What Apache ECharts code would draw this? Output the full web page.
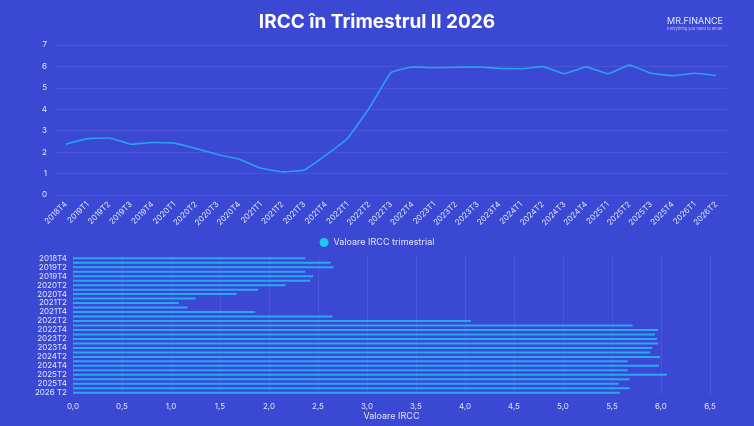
<!DOCTYPE html>
<html><head><meta charset="utf-8">
<script src="https://cdn.jsdelivr.net/npm/echarts@6/dist/echarts.min.js"></script>
<style>html,body{margin:0;padding:0;background:#3a48d4}#c{width:754px;height:426px}</style>
</head><body><div id="c"></div>
<script>
const categories=['2018T4','2019T1','2019T2','2019T3','2019T4','2020T1','2020T2','2020T3','2020T4','2021T1','2021T2','2021T3','2021T4','2022T1','2022T2','2022T3','2022T4','2023T1','2023T2','2023T3','2023T4','2024T1','2024T2','2024T3','2024T4','2025T1','2025T2','2025T3','2025T4','2026T1','2026T2'];
const barCategories=categories.slice(0,-1).concat(['2026 T2']);
const irccValues=[2.37,2.63,2.66,2.37,2.45,2.42,2.17,1.89,1.67,1.25,1.08,1.17,1.86,2.65,4.06,5.71,5.97,5.94,5.96,5.97,5.91,5.89,5.99,5.66,5.98,5.66,6.06,5.68,5.57,5.68,5.58];
const lbl='rgba(255,255,255,0.85)';
const split={lineStyle:{color:'rgba(255,255,255,0.08)'}};
const chart=echarts.init(document.getElementById('c'));
chart.setOption({
  backgroundColor:'#3a48d4',
  textStyle:{fontFamily:'Inter, Roboto, sans-serif'},
  title:[{text:'IRCC în Trimestrul II 2026',left:'center',top:8,textStyle:{color:'#fff',fontSize:19,fontWeight:'bold',fontFamily:'Inter'}},
         {text:'MR.FINANCE',subtext:'Everything you need to know',right:26,top:12,itemGap:1,textStyle:{color:'#e0e4ff',fontSize:9,fontWeight:'normal'},subtextStyle:{color:'#c0c6f0',fontSize:4}}],
  legend:{data:['Valoare IRCC trimestrial'],top:233,left:'center',icon:'circle',itemWidth:9,itemHeight:9,textStyle:{color:lbl,fontSize:9}},
  grid:[{left:55,right:27,top:45,height:150},{left:73,right:44,top:256,height:139}],
  xAxis:[{type:'category',gridIndex:0,data:categories,boundaryGap:true,axisLine:{show:false},axisTick:{show:false},
          axisLabel:{color:lbl,fontSize:8,rotate:45,interval:0}},
         {type:'value',gridIndex:1,min:0,max:6.5,interval:0.5,name:'Valoare IRCC',nameLocation:'middle',nameGap:16,nameTextStyle:{color:lbl,fontSize:9},
          axisLabel:{color:lbl,fontSize:8,formatter:v=>v.toFixed(1).replace('.',',')},splitLine:split}],
  yAxis:[{type:'value',gridIndex:0,min:0,max:7,interval:1,axisLabel:{color:lbl,fontSize:8},splitLine:split},
         {type:'category',gridIndex:1,data:barCategories,inverse:true,axisLine:{show:false},axisTick:{show:false},
          axisLabel:{color:lbl,fontSize:8,interval:1,margin:6}}],
  series:[{name:'Valoare IRCC trimestrial',type:'line',xAxisIndex:0,yAxisIndex:0,data:irccValues,smooth:0.1,showSymbol:false,
           lineStyle:{color:'#2aa0f0',width:1.6},itemStyle:{color:'#1ec8f0'}},
          {name:'Valoare IRCC trimestrial',type:'bar',xAxisIndex:1,yAxisIndex:1,data:irccValues,barWidth:2,
           itemStyle:{color:'#2aa8f0'}}]
});
</script></body></html>
